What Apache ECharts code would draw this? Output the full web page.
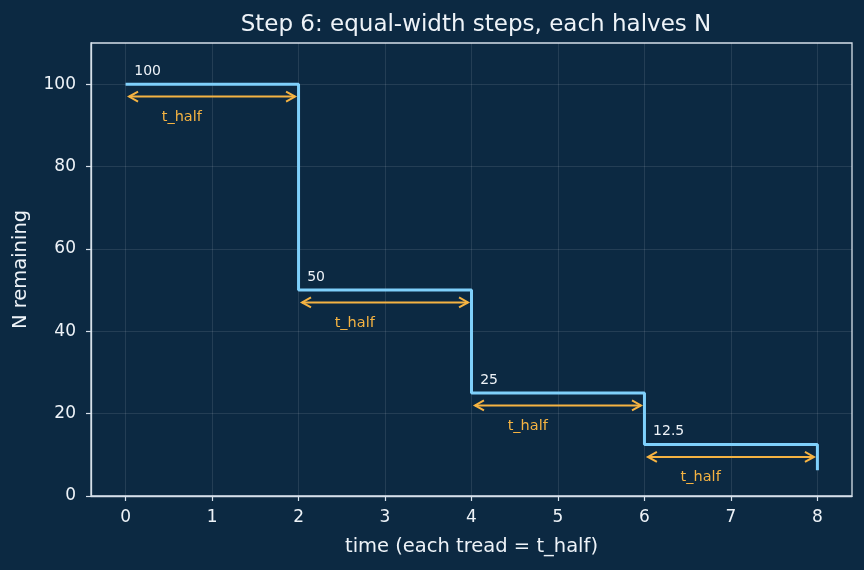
<!DOCTYPE html>
<html>
<head>
<meta charset="utf-8">
<script src="https://cdn.jsdelivr.net/npm/echarts@6/dist/echarts.min.js"></script>
<style>
  html, body { margin: 0; padding: 0; background: #0c2942; }
  #chart { width: 864px; height: 570px; }
</style>
</head>
<body>
<div id="chart"></div>
<script>
// step data: each tread is one t_half, N halves each time
var stepT = [0, 2, 4, 6, 8];
var stepN = [100, 50, 25, 12.5, 6.25];
var stepLabels = ['100', '50', '25', '12.5'];
var arrowText = 't_half';
var xTicks = [0, 1, 2, 3, 4, 5, 6, 7, 8];
var yTicks = [0, 20, 40, 60, 80, 100];

var lineColor = '#7fd0fb';
var arrowColor = '#f5b342';
var axisColor = '#d6e0ea';
var textColor = '#eef3f8';

function getChart()
{
    var myChart = echarts.init(document.getElementById('chart'), null, {renderer: 'canvas'});

    var lineData = [];
    for (var i = 0; i < stepT.length; i++) {
        lineData.push([stepT[i], stepN[i]]);
    }
    // one annotation per tread: start, end, height
    var annData = [];
    for (var j = 0; j < stepLabels.length; j++) {
        annData.push([stepT[j], stepT[j + 1], stepN[j]]);
    }

    var options = {
        backgroundColor: '#0c2942',
        animation: false,
        title: {
            text: 'Step 6: equal-width steps, each halves N',
            left: 471,
            textAlign: 'center',
            top: 9,
            textStyle: {
                color: textColor,
                fontFamily: 'DejaVu Sans',
                fontSize: 23,
                fontWeight: 'normal'
            }
        },
        grid: {
            left: 91,
            right: 12,
            top: 43,
            bottom: 74,
            show: true,
            borderColor: axisColor,
            borderWidth: 1.3,
            backgroundColor: 'transparent'
        },
        xAxis: {
            type: 'value',
            min: -0.4,
            max: 8.4,
            name: 'time (each tread = t_half)',
            nameLocation: 'middle',
            nameGap: 41,
            nameTextStyle: {color: textColor, fontFamily: 'DejaVu Sans', fontSize: 19.5},
            axisLine: {show: true, onZero: false, lineStyle: {color: axisColor, width: 1.3}},
            axisTick: {show: true, length: 5, customValues: xTicks, lineStyle: {color: axisColor, width: 1.2}},
            axisLabel: {customValues: xTicks, color: textColor, fontFamily: 'DejaVu Sans', fontSize: 17, margin: 13},
            splitLine: {show: false}
        },
        yAxis: {
            type: 'value',
            min: 0,
            max: 110,
            name: 'N remaining',
            nameLocation: 'middle',
            nameGap: 60,
            nameTextStyle: {color: textColor, fontFamily: 'DejaVu Sans', fontSize: 19.5},
            axisLine: {show: true, onZero: false, lineStyle: {color: axisColor, width: 1.3}},
            axisTick: {show: true, length: 5, customValues: yTicks, lineStyle: {color: axisColor, width: 1.2}},
            axisLabel: {customValues: yTicks, color: textColor, fontFamily: 'DejaVu Sans', fontSize: 17, margin: 15},
            splitLine: {show: false}
        },
        series: [
        {
            // faint grid lines at the tick values
            type: 'line',
            data: [],
            silent: true,
            markLine: {
                silent: true,
                symbol: ['none', 'none'],
                label: {show: false},
                lineStyle: {color: 'rgba(255,255,255,0.13)', width: 0.8, type: 'solid'},
                data: xTicks.map(function (v) { return {xAxis: v}; })
                    .concat(yTicks.slice(1).map(function (v) { return {yAxis: v}; }))
            }
        },
        {
            name: 'N',
            type: 'line',
            step: 'end',
            data: lineData,
            showSymbol: false,
            lineStyle: {color: lineColor, width: 3},
            z: 5
        },
        {
            type: 'custom',
            data: annData,
            z: 6,
            renderItem: function (params, api) {
                var t0 = api.value(0), t1 = api.value(1), n = api.value(2);
                var a = api.coord([t0 + 0.04, n - 3]);
                var b = api.coord([t1 - 0.04, n - 3]);
                var h = 5, w = 9;
                var st = {stroke: arrowColor, lineWidth: 2, fill: null};
                return {
                    type: 'group',
                    children: [
                        {type: 'line', shape: {x1: a[0], y1: a[1], x2: b[0], y2: b[1]}, style: st},
                        {type: 'polyline', shape: {points: [[a[0] + w, a[1] - h], [a[0], a[1]], [a[0] + w, a[1] + h]]}, style: st},
                        {type: 'polyline', shape: {points: [[b[0] - w, b[1] - h], [b[0], b[1]], [b[0] - w, b[1] + h]]}, style: st},
                        {
                            type: 'text',
                            position: api.coord([t0 + 0.1, n + 1.4]),
                            style: {
                                text: stepLabels[params.dataIndex],
                                fill: textColor,
                                font: '14px "DejaVu Sans"',
                                textAlign: 'left',
                                textVerticalAlign: 'bottom'
                            }
                        },
                        {
                            type: 'text',
                            position: api.coord([t0 + 0.65, n - 8]),
                            style: {
                                text: arrowText,
                                fill: arrowColor,
                                font: '14.5px "DejaVu Sans"',
                                textAlign: 'center',
                                textVerticalAlign: 'middle'
                            }
                        }
                    ]
                };
            }
        }]
    };
    myChart.setOption(options, true);
}

getChart();
</script>
</body>
</html>
